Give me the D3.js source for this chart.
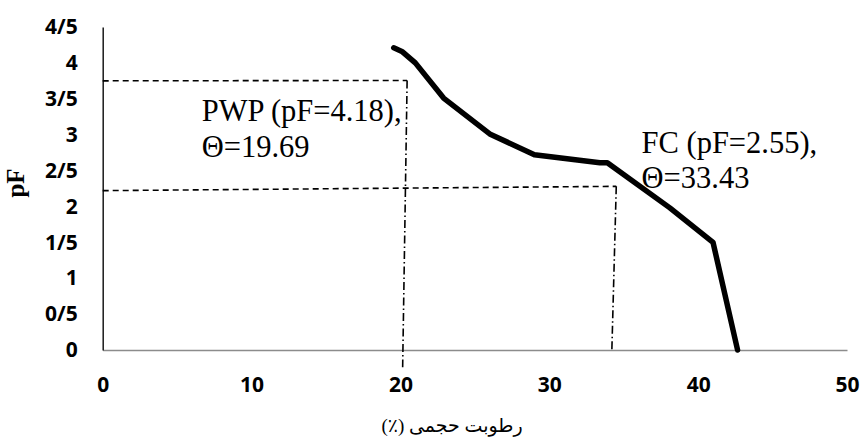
<!DOCTYPE html>
<html>
<head>
<meta charset="utf-8">
<script src="https://cdn.jsdelivr.net/npm/d3@7"></script>
<style>
  html, body { margin: 0; padding: 0; background: #fff; }
  svg { display: block; }
</style>
</head>
<body>
<svg id="chart" width="862" height="441"></svg>
<script>
// ---- data ----
const theta = [19.55, 20.1, 21.0, 22.9, 26.0, 29.0, 33.4, 33.9, 38.1, 41.0, 42.65];
const pF    = [4.21, 4.16, 4.0, 3.51, 3.01, 2.72, 2.61, 2.61, 1.98, 1.50, 0.0];

const xTicks = [0, 10, 20, 30, 40, 50];
const xTickLabels = ["0", "10", "20", "30", "40", "50"];
const yTicks = [0, 0.5, 1, 1.5, 2, 2.5, 3, 3.5, 4, 4.5];
const yTickLabels = ["0", "0/5", "1", "1/5", "2", "2/5", "3", "3/5", "4", "4/5"];

// reference lines (theta, pF)
const pwpH = [[0, 3.75], [20.45, 3.755]];
const pwpV = [[20.45, 3.755], [20.15, -0.24]];
const fcH  = [[0, 2.22], [34.5, 2.28]];
const fcV  = [[34.5, 2.28], [34.2, -0.03]];

const pwpLabel = { theta: 6.65, pF: 3.19, lines: ["PWP (pF=4.18),", "\u0398=19.69"] };
const fcLabel  = { theta: 36.2, pF: 2.745, lines: ["FC (pF=2.55),", "\u0398=33.43"] };

const xTitle = "رطوبت حجمی (٪)";
const yTitle = "pF";

// ---- chart ----
const svg = d3.select("#chart");
const x = d3.scaleLinear().domain([0, 50]).range([102.7, 847]);
const y = d3.scaleLinear().domain([0, 4.5]).range([350, 27]);

const tickFont = "'Open Sans', 'Liberation Sans', sans-serif";

// x axis
const gx = svg.append("g").attr("transform", `translate(0,${y(0)})`)
  .call(d3.axisBottom(x).tickValues(xTicks).tickSize(0).tickSizeOuter(0).tickPadding(27)
    .tickFormat((d, i) => xTickLabels[i]));
gx.select(".domain").attr("stroke", "#8c8c8c").attr("stroke-width", 1.5);
gx.selectAll("text").attr("font-family", tickFont).attr("font-weight", 700)
  .attr("font-size", 21).attr("fill", "#000");

// y axis
const gy = svg.append("g").attr("transform", `translate(${x(0)},0)`)
  .call(d3.axisLeft(y).tickValues(yTicks).tickSize(0).tickSizeOuter(0).tickPadding(25)
    .tickFormat((d, i) => yTickLabels[i]));
gy.select(".domain").attr("stroke", "#1a1a1a").attr("stroke-width", 1.5);
gy.selectAll("text").attr("font-family", tickFont).attr("font-weight", 700)
  .attr("font-size", 21).attr("fill", "#000");

// reference lines
const seg = d3.line().x(d => x(d[0])).y(d => y(d[1]));
[pwpH, fcH].forEach(p => svg.append("path").attr("d", seg(p)).attr("fill", "none")
  .attr("stroke", "#000").attr("stroke-width", 1.6).attr("stroke-dasharray", "6,4"));
[pwpV, fcV].forEach(p => svg.append("path").attr("d", seg(p)).attr("fill", "none")
  .attr("stroke", "#000").attr("stroke-width", 1.6).attr("stroke-dasharray", "8,3,1.5,3"));

// curve
const pts = theta.map((t, i) => [t, pF[i]]);
svg.append("path").attr("d", seg(pts)).attr("fill", "none")
  .attr("stroke", "#000").attr("stroke-width", 5.5)
  .attr("stroke-linejoin", "round").attr("stroke-linecap", "round");

// labels
[pwpLabel, fcLabel].forEach(L => {
  const t = svg.append("text").attr("x", x(L.theta)).attr("y", y(L.pF))
    .attr("font-family", "'Liberation Serif', 'Times New Roman', serif")
    .attr("font-size", 30.5).attr("fill", "#000");
  L.lines.forEach((s, i) => t.append("tspan").attr("x", x(L.theta)).attr("dy", i === 0 ? 0 : 35.5).text(s));
});

// axis titles
svg.append("text").attr("x", 452).attr("y", 432).attr("text-anchor", "middle")
  .attr("direction", "rtl")
  .attr("font-family", "'Liberation Serif', 'DejaVu Serif', 'DejaVu Sans', serif")
  .attr("font-size", 19).attr("fill", "#000").text(xTitle);

svg.append("text").attr("transform", "translate(24,183) rotate(-90)")
  .attr("text-anchor", "middle")
  .attr("font-family", "'Liberation Serif', 'Times New Roman', serif")
  .attr("font-weight", 700).attr("font-size", 25).attr("fill", "#000").text(yTitle);
</script>
</body>
</html>
